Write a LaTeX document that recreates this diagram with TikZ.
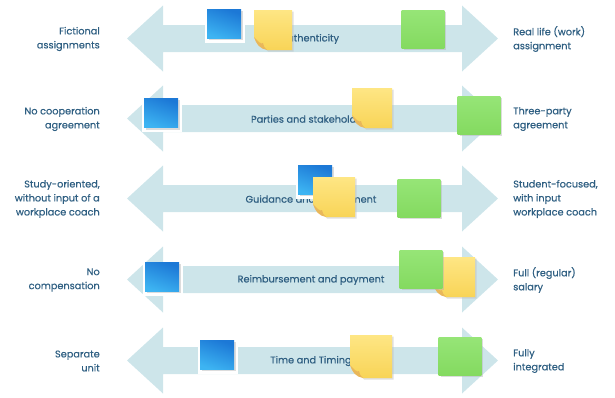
\documentclass[tikz,border=0pt]{standalone}
\usepackage{fontspec}
\setmainfont{Poppins}[UprightFeatures={FakeBold=0.6}]
\definecolor{arrowc}{HTML}{CDE5EA}
\definecolor{txt}{HTML}{2F5F82}
\definecolor{bluetop}{HTML}{1C78D6}
\definecolor{bluebot}{HTML}{3DB4F2}
\definecolor{greentop}{HTML}{96E577}
\definecolor{greenbot}{HTML}{84DA60}
\definecolor{yeltop}{HTML}{FEE684}
\definecolor{yelbot}{HTML}{F8D457}
\definecolor{curl}{HTML}{E9B75A}
\newcommand\dblarrow[2]{%
  \fill[arrowc] (127,#2) -- (163,#2-33) -- (163,#2-13.5) -- (462,#2-13.5) -- (462,#2-33)
    -- (498,#2) -- (462,#2+33) -- (462,#2+13.5) -- (163,#2+13.5) -- (163,#2+33) -- cycle;
  \coordinate (#1) at (312,#2);}
\newcommand\ynote[5]{% name, x, y, w, h
  \begin{scope}[shift={(#2,#3)}]
    \fill[black!25,opacity=.5] (2,2) -- (#4+1.5,1.5) -- (#4+1.5,#5+1.5) -- (14,#5+1.5) -- (2,#5-12) -- cycle;
    \shade[top color=yeltop,bottom color=yelbot] (0,0) -- (#4,0) -- (#4,#5) -- (13,#5)
      .. controls (8,#5-3) and (3,#5-6) .. (0,#5-13) -- cycle;
    \fill[curl] (13,#5) .. controls (6,#5-1) and (2,#5-6) .. (0,#5-13)
      .. controls (4,#5-9) and (7,#5-5) .. (9,#5-7) .. controls (9,#5-4) and (11,#5-2) .. (13,#5) -- cycle;
    \coordinate (#1) at (#4/2,#5/2);
  \end{scope}}
\tikzset{
  lbl/.style={text=txt, font=\fontsize{7.3}{10.5}\selectfont, inner sep=0pt},
  leftlbl/.style={lbl, align=right, anchor=east},
  rightlbl/.style={lbl, align=left, anchor=west},
  midlbl/.style={lbl, anchor=center},
  bnote/.style={minimum width=25.5pt, minimum height=22pt, inner sep=0pt,
    top color=bluetop, bottom color=bluebot, shading angle=-20},
  bback/.style={fill=white, minimum width=30pt, minimum height=26pt, inner sep=0pt},
  gnote/.style={minimum width=32pt, minimum height=28.5pt, inner sep=0pt,
    top color=greentop, bottom color=greenbot},
  nshadow/.style={fill=black!30, opacity=.45, inner sep=0pt},
}
\begin{document}
\begin{tikzpicture}[x=0.75pt,y=-0.75pt]
\useasboundingbox (0,0) rectangle (615,397);
% row 1
\dblarrow{a1}{38.5}
\node[midlbl] (m1) at (310,39) {Authenticity};
\node[leftlbl] (l1) at (100,39) {Fictional\\assignments};
\node[rightlbl] (r1) at (513,39) {Real life (work)\\assignment};
\node[bback] (bb1) at (225,26) {};
\node[nshadow, minimum width=25.5pt, minimum height=22pt] at (226,25.5) {};
\node[bnote] (b1) at (224,24) {};
\ynote{y1}{254}{10}{38}{40}
\node[nshadow, minimum width=32pt, minimum height=28.5pt] at (425,30.5) {};
\node[gnote] (g1) at (423,29) {};
% row 2
\dblarrow{a2}{118.5}
\node[midlbl] (m2) at (311,119) {Parties and stakeholders};
\node[leftlbl] (l2) at (100,119) {No cooperation\\agreement};
\node[rightlbl] (r2) at (513,119) {Three-party\\agreement};
\node[bback] (bb2) at (162,115) {};
\node[nshadow, minimum width=25.5pt, minimum height=22pt] at (163,115) {};
\node[bnote] (b2) at (161,113) {};
\ynote{y2}{352}{88}{40}{40}
\node[nshadow, minimum width=32pt, minimum height=28.5pt] at (481,116.5) {};
\node[gnote] (g2) at (479,115) {};
% row 3
\dblarrow{a3}{198.5}
\node[midlbl] (m3) at (311,199) {Guidance and assessment};
\node[leftlbl] (l3) at (100,199) {Study-oriented,\\without input of a\\workplace coach};
\node[rightlbl] (r3) at (513,199) {Student-focused,\\with input\\workplace coach};
\node[bback] (bb3) at (316,182) {};
\node[nshadow, minimum width=25.5pt, minimum height=22pt] at (317,181.5) {};
\node[bnote] (b3) at (315,180) {};
\ynote{y3}{313}{177}{42}{40}
\node[nshadow, minimum width=32pt, minimum height=28.5pt] at (421,199.5) {};
\node[gnote] (g3) at (419,198) {};
% row 4
\dblarrow{a4}{279.5}
\node[midlbl] (m4) at (311,280) {Reimbursement and payment};
\node[leftlbl] (l4) at (100,280) {No\\compensation};
\node[rightlbl] (r4) at (513,280) {Full (regular)\\salary};
\node[bback] (bb4) at (163,279) {};
\node[nshadow, minimum width=25.5pt, minimum height=22pt] at (164,278.5) {};
\node[bnote] (b4) at (162,277) {};
\ynote{y4}{433}{257}{42}{40}
\node[nshadow, minimum width=32pt, minimum height=28.5pt] at (423,270.5) {};
\node[gnote] (g4) at (421,269) {};
% row 5
\dblarrow{a5}{360.5}
\node[midlbl] (m5) at (311,361) {Time and Timing};
\node[leftlbl] (l5) at (100,361) {Separate\\unit};
\node[rightlbl] (r5) at (513,361) {Fully\\integrated};
\node[bback] (bb5) at (218,357) {};
\node[nshadow, minimum width=25.5pt, minimum height=22pt] at (219,356.5) {};
\node[bnote] (b5) at (217,355) {};
\ynote{y5}{350}{335}{42}{43}
\node[nshadow, minimum width=32pt, minimum height=28.5pt] at (462,357.5) {};
\node[gnote] (g5) at (460,356) {};
\end{tikzpicture}
\end{document}
